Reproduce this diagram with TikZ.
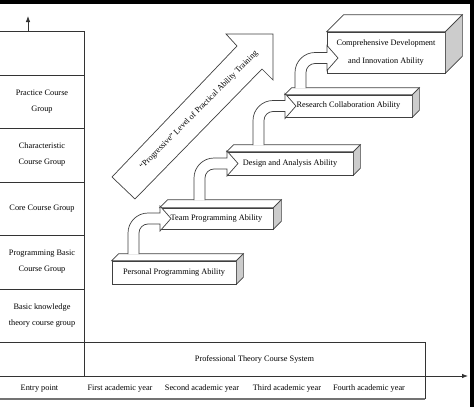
\documentclass[tikz,border=0pt]{standalone}
\usepackage{fontspec}
\setmainfont{Liberation Serif}
\usetikzlibrary{arrows.meta}

\begin{document}
\begin{tikzpicture}[x=1pt, y=-1pt, font=\fontsize{8.3}{16}\selectfont,
    rule/.style={draw=black!80, line width=0.8pt},
    grouptext/.style={align=center, inner sep=0pt},
    ability/.style={draw=black!75, fill=white, line width=0.7pt, inner sep=0pt},
    topface/.style={draw=black!75, fill=white, line width=0.7pt},
    sideface/.style={draw=black!75, fill=gray!40, line width=0.7pt},
    steparrow/.style={draw=black!75, fill=white, line width=0.7pt},
    axis/.style={rule, -{Latex[length=6pt, width=4.5pt]}}]
    \useasboundingbox (0,0) rectangle (474,407);

    % Edge of the scan
    \fill[black] (0,0) rectangle (474,4);
    \fill[black] (470,0) rectangle (474,407);

    % Course groups (left column)
    \foreach \y in {31,75,128,182,235,289}
        \draw[rule] (0,\y) -- (84,\y);
    \draw[rule] (84,31) -- (84,376);
    \draw[rule] (0,342) -- (425,342) -- (425,399);
    \draw[rule, draw=black!55, line width=1.4pt] (0,399) -- (425,399);

    \node[grouptext] (practice) at (42,101.5) {Practice Course\\Group};
    \node[grouptext] (characteristic) at (42,155) {Characteristic\\Course Group};
    \node[grouptext] (core) at (42,208.5) {Core Course Group};
    \node[grouptext] (progbasic) at (42,262) {Programming Basic\\Course Group};
    \node[grouptext] (knowledge) at (42,315.5) {Basic knowledge\\theory course group};

    % Axes
    \coordinate (origin) at (0,376);
    \coordinate (xend) at (468,376);
    \coordinate (ybase) at (28,31);
    \coordinate (yend) at (28,16);
    \draw[axis] (origin) -- (xend);
    \draw[axis] (ybase) -- (yend);

    % Professional theory and years
    \node (system) at (254.5,359) {Professional Theory Course System};
    \node (entry) at (39.5,389) {Entry point};
    \node (year1) at (120,389) {First academic year};
    \node (year2) at (202,389) {Second academic year};
    \node (year3) at (287,389) {Third academic year};
    \node (year4) at (369,389) {Fourth academic year};

    % Big diagonal arrow
    \filldraw[steparrow] (112,177) -- (237,46) -- (226,34) -- (273,34)
        -- (273,80) -- (262,69) -- (135,199) -- cycle;
    \node[rotate=45] (progressive) at (199,110)
        {“Progressive” Level of Practical Ability Training};

    % Ability steps
    \node[ability, minimum width=124pt, minimum height=23pt] (personal) at (174,272.5) {Personal Programming Ability};
    \node[ability, minimum width=113pt, minimum height=21pt] (team) at (216.5,218.5) {Team Programming Ability};
    \node[ability, minimum width=126pt, minimum height=23pt] (design) at (290,163.5) {Design and Analysis Ability};
    \node[ability, minimum width=127pt, minimum height=22pt] (research) at (348.5,106) {Research Collaboration Ability};
    \node[ability, minimum width=118pt, minimum height=41pt, align=center] (comprehensive) at (386,52.5)
        {Comprehensive Development\\[2pt]and Innovation Ability};

    \foreach \n/\d in {personal/7, team/8, design/7, research/7, comprehensive/17} {
        \draw[topface] (\n.north west) -- ([xshift=\d pt, yshift=\d pt]\n.north west)
            -- ([xshift=\d pt, yshift=\d pt]\n.north east) -- (\n.north east) -- cycle;
        \draw[sideface] (\n.north east) -- ([xshift=\d pt, yshift=\d pt]\n.north east)
            -- ([xshift=\d pt, yshift=\d pt]\n.south east) -- (\n.south east) -- cycle;
    }

    % Bent arrows between steps
    \foreach \a/\f/\b/\c in {128/254/160/218.5, 194/200/227/163.5, 253/145/285/106, 295/88/327/58} {
        \filldraw[steparrow] (\a,\f) -- (\a,\c+14.5)
            .. controls (\a,\c+3.5) and (\a+9,\c-5.5) .. (\a+20,\c-5.5)
            -- (\b,\c-5.5) -- (\b,\c-12.5) -- (\b+11,\c) -- (\b,\c+12.5) -- (\b,\c+5.5)
            -- (\a+20,\c+5.5)
            .. controls (\a+15,\c+5.5) and (\a+11,\c+9.5) .. (\a+11,\c+14.5)
            -- (\a+11,\f);
    }
\end{tikzpicture}
\end{document}
